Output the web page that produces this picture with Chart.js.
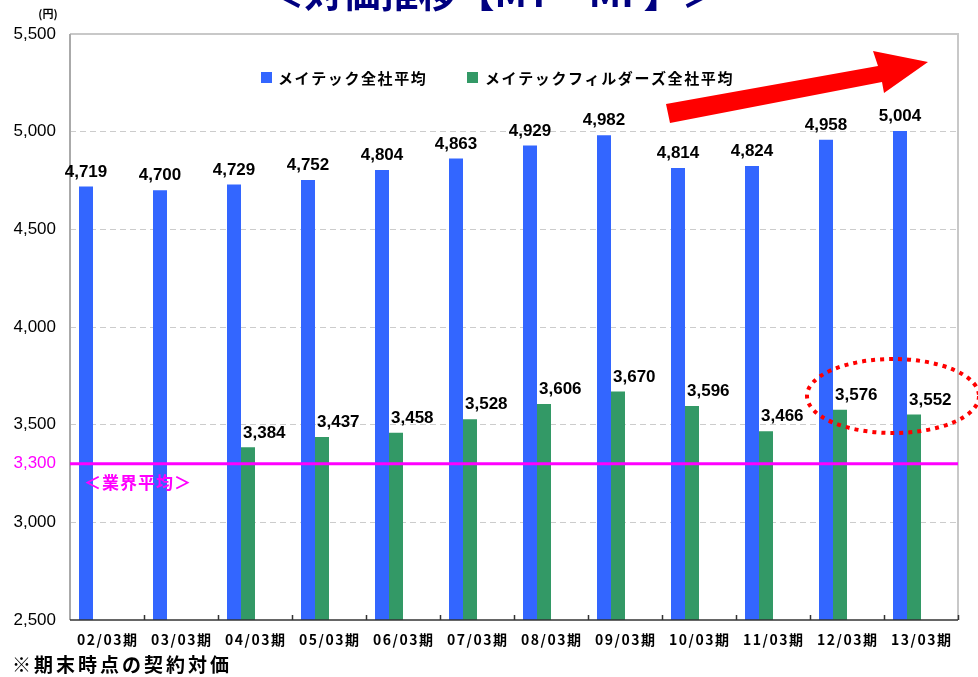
<!DOCTYPE html>
<html>
<head>
<meta charset="utf-8">
<script src="https://cdn.jsdelivr.net/npm/chart.js@4.4.1/dist/chart.umd.min.js"></script>
<style>
html,body{margin:0;padding:0;background:#fff;}
#wrap{position:relative;width:978px;height:677px;}
</style>
</head>
<body>
<div id="wrap"><canvas id="c" width="978" height="677"></canvas></div>
<script>
const categories = ['02/03期','03/03期','04/03期','05/03期','06/03期','07/03期','08/03期','09/03期','10/03期','11/03期','12/03期','13/03期'];
const meitecValues = [4719, 4700, 4729, 4752, 4804, 4863, 4929, 4982, 4814, 4824, 4958, 5004];
const fieldersValues = [null, null, 3384, 3437, 3458, 3528, 3606, 3670, 3596, 3466, 3576, 3552];
const seriesNames = ['メイテック全社平均', 'メイテックフィルダーズ全社平均'];
const industryAverage = 3300;
const industryLabel = '＜業界平均＞';
const yTicks = [2500, 3000, 3500, 4000, 4500, 5000, 5500];
const titleText = '＜対価推移【MT・MF】＞';
const unitText = '(円)';
const footnoteText = '※期末時点の契約対価';

const BLUE = '#3366FF', GREEN = '#339966', MAGENTA = '#FF00FF';
const JP = "'Noto Sans CJK JP', 'Noto Sans', sans-serif";
const NUM = "'Liberation Sans', Arial, sans-serif";
const fmt = v => v.toLocaleString('en-US');

const extras = {
  id: 'extras',
  beforeDatasetsDraw(chart) {
    const {ctx, chartArea: a} = chart;
    ctx.save();
    ctx.strokeStyle = '#c8c8c8';
    ctx.lineWidth = 2;
    ctx.beginPath();
    ctx.moveTo(a.left, a.top); ctx.lineTo(a.right, a.top); ctx.lineTo(a.right, a.bottom);
    ctx.stroke();
    ctx.strokeStyle = '#aaaaaa';
    ctx.beginPath(); ctx.moveTo(a.left, a.top); ctx.lineTo(a.left, a.bottom); ctx.stroke();
    ctx.restore();
  },
  afterDatasetsDraw(chart) {
    const {ctx, chartArea: a, scales} = chart;
    const y = scales.y, x = scales.x;
    ctx.save();
    // bottom axis with inward tick marks
    ctx.strokeStyle = '#333333';
    ctx.lineWidth = 1.5;
    ctx.beginPath(); ctx.moveTo(a.left, a.bottom); ctx.lineTo(a.right, a.bottom); ctx.stroke();
    const cw = (a.right - a.left) / categories.length;
    ctx.beginPath();
    for (let i = 1; i <= categories.length; i++) {
      const px = Math.round(a.left + cw * i) + 0.5;
      ctx.moveTo(px, a.bottom); ctx.lineTo(px, a.bottom - 5);
    }
    ctx.stroke();

    // category labels
    ctx.fillStyle = '#000';
    ctx.font = 'bold 14px ' + JP;
    ctx.letterSpacing = '1.5px';
    ctx.textAlign = 'center'; ctx.textBaseline = 'middle';
    categories.forEach((c, i) => {
      ctx.fillText(c, x.getPixelForValue(i) + 0.75, 640);
    });
    ctx.letterSpacing = '0px';

    // industry average line
    const yy = y.getPixelForValue(industryAverage);
    ctx.strokeStyle = MAGENTA; ctx.lineWidth = 3;
    ctx.beginPath(); ctx.moveTo(a.left, yy); ctx.lineTo(a.right, yy); ctx.stroke();
    ctx.fillStyle = MAGENTA;
    ctx.font = 'bold 17px ' + JP;
    ctx.letterSpacing = '1px';
    ctx.textAlign = 'left'; ctx.textBaseline = 'middle';
    ctx.fillText(industryLabel, a.left + 14, yy + 19);
    ctx.letterSpacing = '0px';

    // value labels
    ctx.fillStyle = '#000';
    ctx.font = 'bold 17px ' + NUM;
    ctx.textBaseline = 'bottom';
    const m0 = chart.getDatasetMeta(0), m1 = chart.getDatasetMeta(1);
    m0.data.forEach((el, i) => {
      if (meitecValues[i] == null) return;
      ctx.textAlign = 'center';
      ctx.fillText(fmt(meitecValues[i]), el.x, el.y - 6);
    });
    m1.data.forEach((el, i) => {
      if (fieldersValues[i] == null) return;
      ctx.textAlign = 'left';
      ctx.fillText(fmt(fieldersValues[i]), el.x - el.width / 2 + 2, el.y - 6);
    });

    // legend
    ctx.textBaseline = 'middle';
    ctx.font = 'bold 15px ' + JP;
    ctx.letterSpacing = '1.6px';
    ctx.fillStyle = BLUE; ctx.fillRect(261, 72, 11, 11);
    ctx.fillStyle = '#000'; ctx.textAlign = 'left';
    ctx.fillText(seriesNames[0], 278, 78);
    ctx.fillStyle = GREEN; ctx.fillRect(467, 72, 11, 11);
    ctx.fillStyle = '#000';
    ctx.fillText(seriesNames[1], 485, 78);
    ctx.letterSpacing = '0px';

    // red arrow
    ctx.fillStyle = '#FF0000';
    ctx.beginPath();
    ctx.moveTo(666, 104);
    ctx.lineTo(878, 66);
    ctx.lineTo(873, 51);
    ctx.lineTo(928, 62);
    ctx.lineTo(884, 93);
    ctx.lineTo(882, 82);
    ctx.lineTo(670, 123);
    ctx.closePath();
    ctx.fill();

    // dotted ellipse
    ctx.strokeStyle = '#FF0000';
    ctx.lineWidth = 4;
    ctx.setLineDash([4, 5]);
    ctx.beginPath();
    ctx.ellipse(893, 396, 86, 37, 0, 0, Math.PI * 2);
    ctx.stroke();
    ctx.setLineDash([]);

    // title (clipped at top)
    ctx.fillStyle = '#000080';
    ctx.font = 'bold 38px ' + JP;
    ctx.textAlign = 'center'; ctx.textBaseline = 'alphabetic';
    ctx.fillText(titleText, 493, 7);

    // unit
    ctx.fillStyle = '#000';
    ctx.font = 'bold 11px ' + JP;
    ctx.textBaseline = 'middle';
    ctx.fillText(unitText, 48, 14);

    // footnote
    ctx.font = 'bold 19px ' + JP;
    ctx.letterSpacing = '3px';
    ctx.textAlign = 'left';
    ctx.fillText(footnoteText, 12, 665);
    ctx.letterSpacing = '0px';
    ctx.restore();
  }
};

new Chart(document.getElementById('c'), {
  type: 'bar',
  data: {
    labels: categories,
    datasets: [
      {label: seriesNames[0], data: meitecValues, backgroundColor: BLUE},
      {label: seriesNames[1], data: fieldersValues, backgroundColor: GREEN},
      {label: '', data: categories.map(() => null), backgroundColor: 'rgba(0,0,0,0)'},
      {label: '', data: categories.map(() => null), backgroundColor: 'rgba(0,0,0,0)'}
    ]
  },
  options: {
    responsive: false,
    animation: false,
    layout: {padding: {top: 34, right: 20, left: 0, bottom: 0}},
    datasets: {bar: {categoryPercentage: 56 / 74, barPercentage: 1}},
    plugins: {legend: {display: false}, tooltip: {enabled: false}},
    scales: {
      x: {
        grid: {display: false, drawTicks: false},
        border: {display: false},
        ticks: {display: false},
        afterFit(s) { s.height = 57; }
      },
      y: {
        min: 2500, max: 5500,
        afterBuildTicks(s) {
          s.ticks = yTicks.concat([industryAverage]).sort((p, q) => p - q).map(v => ({value: v}));
        },
        grid: {
          drawTicks: false,
          lineWidth: 1,
          color: c => (c.tick && (c.tick.value === industryAverage || c.tick.value === 2500 || c.tick.value === 5500)) ? 'rgba(0,0,0,0)' : '#cccccc'
        },
        border: {display: false, dash: [6, 4]},
        ticks: {
          padding: 14,
          font: {family: NUM, size: 17},
          color: c => c.tick.value === industryAverage ? MAGENTA : '#000',
          callback: v => fmt(v)
        },
        afterFit(s) { s.width = 70; }
      }
    }
  },
  plugins: [extras]
});
</script>
</body>
</html>
